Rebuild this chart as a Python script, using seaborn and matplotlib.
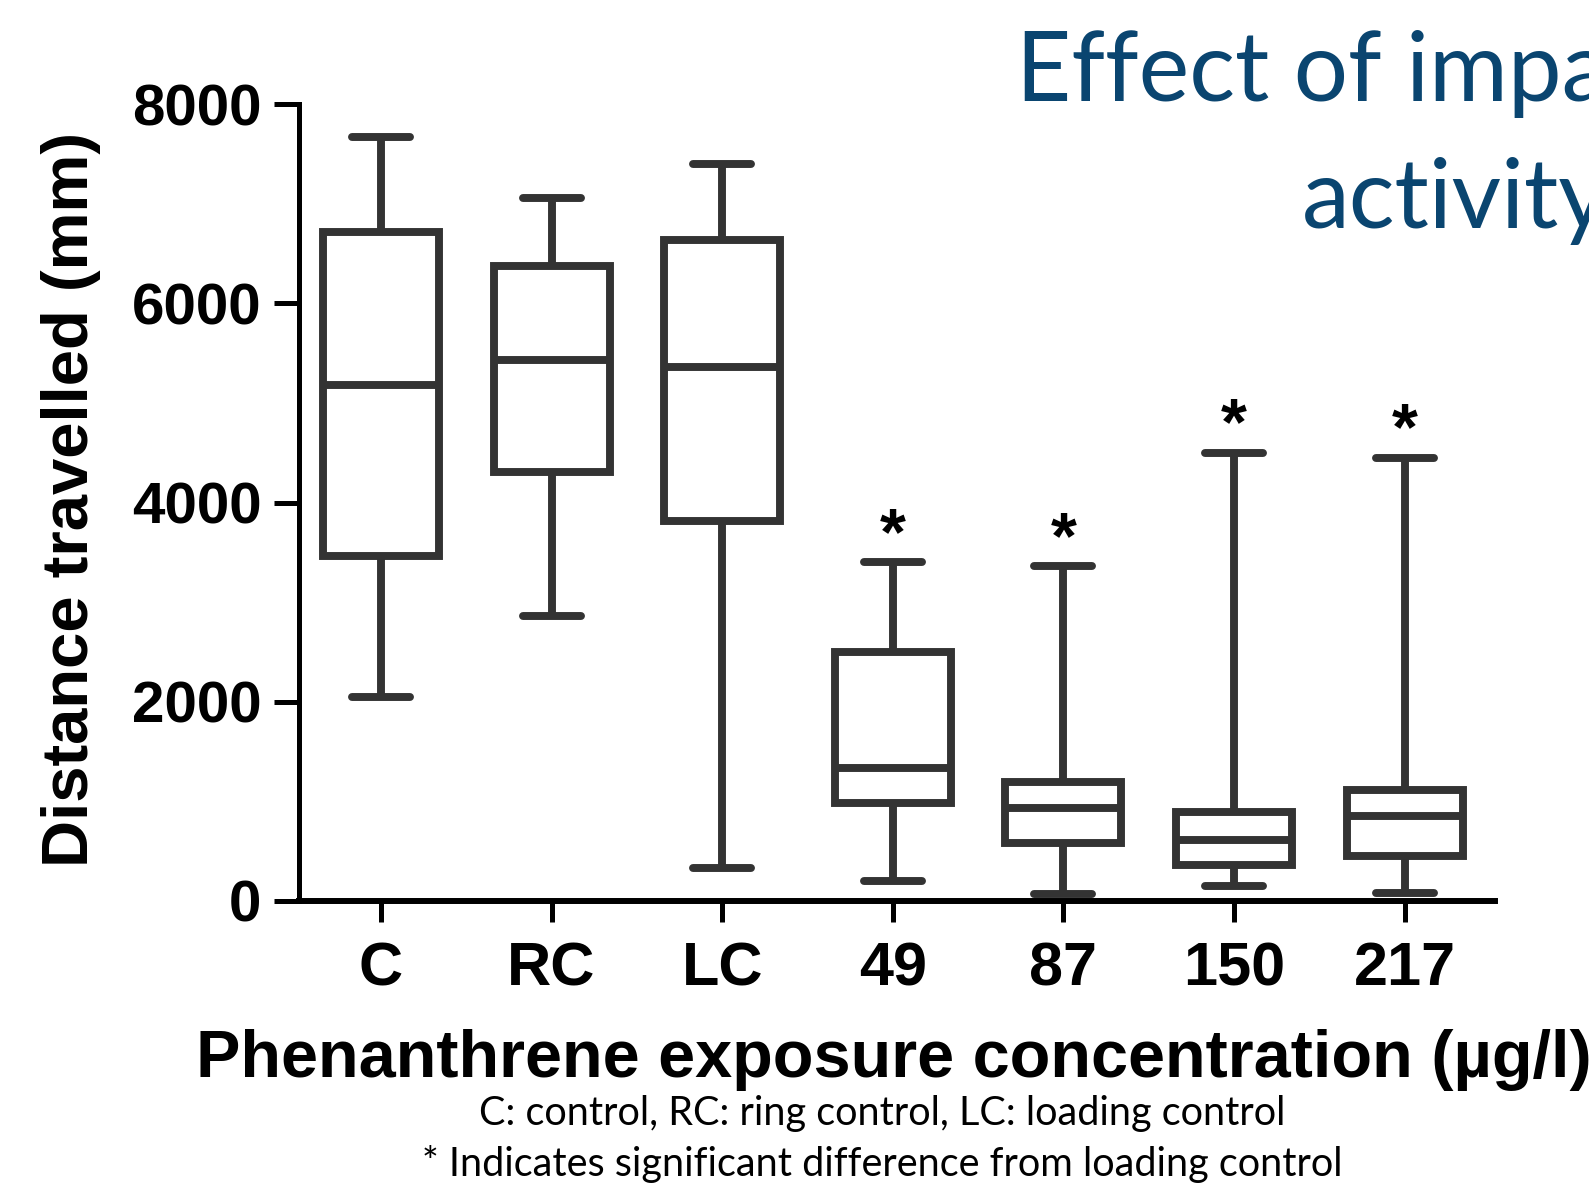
import numpy as np
import pandas as pd
import seaborn as sns
import matplotlib.pyplot as plt

# values (five-number summary per group)
groups = ['C', 'RC', 'LC', '49', '87', '150', '217']
whisker_low = [2050, 2860, 330, 205, 75, 155, 80]
q1 = [3460, 4305, 3815, 980, 580, 365, 450]
median = [5180, 5435, 5365, 1335, 935, 610, 855]
q3 = [6720, 6380, 6635, 2505, 1190, 895, 1110]
whisker_high = [7675, 7055, 7400, 3400, 3360, 4500, 4450]
significant = [False, False, False, True, True, True, True]

# long-form table: 5 points per group gives exactly these quartiles
rows = []
for g, lo, a, m, b, hi in zip(groups, whisker_low, q1, median, q3, whisker_high):
    for v in (lo, a, m, b, hi):
        rows.append({'group': g, 'distance': v})
df = pd.DataFrame(rows)

sns.set_style('ticks')
plt.rcParams['font.family'] = ['Liberation Sans', 'DejaVu Sans']
plt.rcParams['text.color'] = 'black'

fig = plt.figure(figsize=(15.89, 11.83), dpi=100)
ax = fig.add_axes([0.1882, 0.2384, 0.7526, 0.6734])

sns.boxplot(data=df, x='group', y='distance', order=groups, whis=(0, 100),
            width=0.68, color='white', linecolor='#333333', linewidth=5.7, ax=ax)

# significance stars above the upper whiskers
for i, (hi, sig) in enumerate(zip(whisker_high, significant)):
    if sig:
        ax.annotate('*', xy=(i, hi), xytext=(0, 6), textcoords='offset points',
                    ha='center', va='baseline', fontsize=48, fontweight='bold',
                    color='black')

ax.set_ylim(0, 8000)
ax.set_xlim(-0.48, 6.53)
ax.set_yticks([0, 2000, 4000, 6000, 8000])
sns.despine(ax=ax)
ax.spines['left'].set_linewidth(3.6)
ax.spines['bottom'].set_linewidth(4.3)
ax.spines['left'].set_color('black')
ax.spines['bottom'].set_color('black')
ax.tick_params(axis='y', length=18, width=3.6, labelsize=42, pad=9,
               color='black', labelcolor='black')
ax.tick_params(axis='x', length=15, width=3.6, labelsize=44, pad=14,
               color='black', labelcolor='black')
for lab in ax.get_xticklabels() + ax.get_yticklabels():
    lab.set_fontweight('bold')
ax.set_xlabel('')
ax.set_ylabel('')

fig.text(71 / 1589, 1 - 499 / 1183, 'Distance travelled (mm)', rotation=90,
         ha='center', va='center', fontsize=47, fontweight='bold')
fig.text(894 / 1589, 1 - 1060 / 1183, 'Phenanthrene exposure concentration (µg/l)',
         ha='center', va='center', fontsize=48, fontweight='bold')

# footnotes
fig.text(882 / 1589, 1 - 1114 / 1183, 'C: control, RC: ring control, LC: loading control',
         ha='center', va='center', fontsize=28.5, family='Lato')
fig.text(882 / 1589, 1 - 1164 / 1183, '* Indicates significant difference from loading control',
         ha='center', va='center', fontsize=28.5, family='Lato')

# slide title (runs off the right edge, as on the slide)
fig.text(1016 / 1589, 1 - 101 / 1183, 'Effect of impa', ha='left', va='baseline',
         fontsize=69, family='Lato', color='#0a4570')
fig.text(1302 / 1589, 1 - 228 / 1183, 'activity', ha='left', va='baseline',
         fontsize=69, family='Lato', color='#0a4570')

fig.savefig('out.png', dpi=100)
